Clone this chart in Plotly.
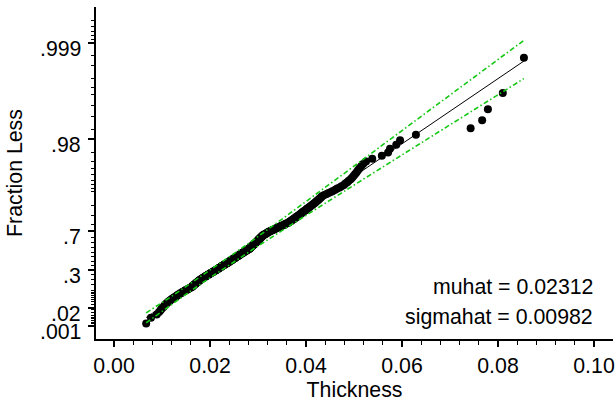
import numpy as np
import plotly.graph_objects as go

# Sorted thickness sample
thickness = [
    .0067, .0077, .0089, .0094, .0097, .0099, .0102, .0104, .0106, .0108,
    .0110, .0112, .0114, .0116, .0118, .0120, .0122, .0124, .0126, .0128,
    .0130, .0131, .0133, .0135, .0136, .0138, .0140, .0141, .0143, .0145,
    .0146, .0148, .0149, .0151, .0153, .0154, .0156, .0157, .0159, .0161,
    .0162, .0163, .0164, .0164, .0165, .0166, .0167, .0168, .0169, .0170,
    .0171, .0171, .0172, .0173, .0174, .0175, .0176, .0176, .0177, .0178,
    .0179, .0180, .0181, .0182, .0183, .0184, .0185, .0186, .0187, .0188,
    .0189, .0190, .0191, .0192, .0193, .0194, .0195, .0196, .0197, .0198,
    .0199, .0200, .0201, .0202, .0203, .0204, .0205, .0206, .0207, .0208,
    .0209, .0210, .0211, .0212, .0213, .0214, .0215, .0216, .0217, .0217,
    .0218, .0219, .0220, .0221, .0222, .0223, .0224, .0224, .0225, .0226,
    .0227, .0228, .0229, .0230, .0231, .0232, .0233, .0234, .0235, .0236,
    .0237, .0238, .0238, .0239, .0240, .0241, .0242, .0243, .0244, .0245,
    .0245, .0246, .0247, .0248, .0249, .0250, .0251, .0252, .0252, .0253,
    .0254, .0255, .0256, .0257, .0258, .0259, .0260, .0261, .0262, .0262,
    .0263, .0264, .0265, .0266, .0267, .0268, .0269, .0270, .0271, .0272,
    .0273, .0274, .0275, .0276, .0277, .0278, .0279, .0280, .0281, .0282,
    .0283, .0283, .0284, .0285, .0285, .0286, .0287, .0287, .0288, .0289,
    .0290, .0290, .0291, .0292, .0292, .0293, .0294, .0294, .0295, .0296,
    .0297, .0297, .0298, .0299, .0299, .0300, .0301, .0301, .0302, .0303,
    .0304, .0304, .0305, .0306, .0307, .0307, .0308, .0309, .0310, .0310,
    .0312, .0313, .0315, .0316, .0317, .0319, .0320, .0321, .0323, .0324,
    .0326, .0328, .0330, .0332, .0334, .0335, .0337, .0339, .0341, .0343,
    .0345, .0347, .0349, .0351, .0353, .0355, .0357, .0359, .0362, .0364,
    .0365, .0367, .0368, .0370, .0371, .0373, .0374, .0376, .0377, .0379,
    .0380, .0382, .0384, .0385, .0387, .0389, .0390, .0392, .0393, .0395,
    .0397, .0399, .0401, .0402, .0404, .0406, .0408, .0410, .0412, .0414,
    .0416, .0418, .0420, .0422, .0424, .0426, .0428, .0430, .0432, .0434,
    .0438, .0443, .0447, .0452, .0456, .0461, .0465, .0470, .0474, .0479,
    .0482, .0486, .0489, .0493, .0496,
    .0499, .0502, .0505, .0508, .0511,
    .0515, .0519, .0525, .0538, .0558, .0571, .0575, .0588, .0596, .0629,
    .0743, .0767, .0779, .0810, .0854,
]

muhat = 0.02312
sigmahat = 0.00982

prob_ticks = [0.001, 0.02, 0.3, 0.7, 0.98, 0.999]
prob_tick_text = [".001", ".02", ".3", ".7", ".98", ".999"]
minor_probs = [0.0015, 0.002, 0.003, 0.004, 0.005, 0.007, 0.01, 0.015, 0.03,
               0.04, 0.05, 0.06, 0.07, 0.08, 0.09, 0.1, 0.15, 0.2, 0.25, 0.35,
               0.4, 0.45, 0.5, 0.55, 0.6, 0.65, 0.75, 0.8, 0.85, 0.9, 0.91,
               0.92, 0.93, 0.94, 0.95, 0.96, 0.97, 0.985, 0.99, 0.993, 0.995,
               0.996, 0.997, 0.998, 0.9985, 0.9991, 0.9992, 0.9993, 0.9994,
               0.9995]

x_ticks = [0.00, 0.02, 0.04, 0.06, 0.08, 0.10]

FONT = "Liberation Sans, Arial, Helvetica, sans-serif"
FS = 21.3


def ev_scale(p):
    p = np.asarray(p, dtype=float)
    return -np.log(-np.log(p))


x = np.sort(np.array(thickness))
n = len(x)
pp = (np.arange(1, n + 1) - 0.5) / n
yq = ev_scale(pp)

# reference line over data range
xl = np.array([x.min(), x.max()])
yl = (xl - muhat) / sigmahat

# confidence bounds (largest extreme value, asymptotic MLE covariance)
s2n = sigmahat ** 2 / n
yg = np.linspace(-2.4, 8.2, 4000)
se = np.sqrt(s2n * (1.1087 + 2 * 0.2570 * yg + 0.6079 * yg ** 2))
xhat = muhat + sigmahat * yg
xb_lo = xhat - 1.96 * se
xb_hi = xhat + 1.96 * se
m1 = (xb_lo >= x.min()) & (xb_lo <= x.max())
m2 = (xb_hi >= x.min()) & (xb_hi <= x.max())

fig = go.Figure()
fig.add_trace(go.Scatter(x=x, y=yq, mode="markers",
                         marker=dict(color="black", size=8), showlegend=False,
                         hoverinfo="skip"))
fig.add_trace(go.Scatter(x=xl, y=yl, mode="lines",
                         line=dict(color="black", width=1), showlegend=False))
for xm, ym in [(xb_lo[m1], yg[m1]), (xb_hi[m2], yg[m2])]:
    fig.add_trace(go.Scatter(x=xm, y=ym, mode="lines",
                             line=dict(color="rgb(20,200,20)", width=1.6,
                                       dash="5px,2.5px,1.5px,2.5px"),
                             showlegend=False))

annotations = []
for p, t in zip(prob_ticks, prob_tick_text):
    annotations.append(dict(xref="paper", x=0, yref="y", y=float(ev_scale(p)),
                            text=t, showarrow=False, xanchor="right",
                            yanchor="middle", xshift=-13, yshift=-6,
                            font=dict(size=FS, color="black", family=FONT)))
annotations.append(dict(xref="paper", x=0.965, yref="paper", y=0.1575,
                        text="muhat = 0.02312", showarrow=False,
                        xanchor="right", yanchor="middle",
                        font=dict(size=FS, color="black", family=FONT)))
annotations.append(dict(xref="paper", x=0.965, yref="paper", y=0.0672,
                        text="sigmahat = 0.00982", showarrow=False,
                        xanchor="right", yanchor="middle",
                        font=dict(size=FS, color="black", family=FONT)))

fig.update_layout(
    width=616, height=404,
    margin=dict(l=96, r=3, t=7, b=65, autoexpand=False),
    paper_bgcolor="white", plot_bgcolor="white",
    font=dict(family=FONT, size=FS, color="black"),
    annotations=annotations,
    xaxis=dict(
        range=[-0.00375, 0.10396], automargin=False,
        tickmode="array", tickvals=x_ticks,
        ticktext=[f"{v:.2f}" for v in x_ticks],
        ticks="outside", ticklen=6, tickwidth=1.5, tickcolor="black",
        minor=dict(dtick=0.004, tick0=0, ticks="outside", ticklen=4,
                   tickcolor="black", tickwidth=1),
        showline=True, linecolor="black", linewidth=2, mirror=False,
        showgrid=False, zeroline=False,
        title=dict(text="Thickness", standoff=0,
                   font=dict(size=FS, family=FONT)),
        tickfont=dict(size=FS, family=FONT),
    ),
    yaxis=dict(
        range=[-2.344, 8.031], automargin=False,
        tickmode="array", tickvals=list(ev_scale(prob_ticks)),
        showticklabels=False,
        ticks="outside", ticklen=6, tickwidth=1.5, tickcolor="black",
        minor=dict(tickmode="array", tickvals=list(ev_scale(minor_probs)),
                   ticks="outside", ticklen=3.5, tickcolor="black",
                   tickwidth=1),
        showline=True, linecolor="black", linewidth=2, mirror=False,
        showgrid=False, zeroline=False,
        title=dict(text="Fraction Less", standoff=60,
                   font=dict(size=FS, family=FONT)),
    ),
)

fig.write_html("out.html",
               config={"displayModeBar": False},
               post_script="document.body.style.margin='0px';"
                           "document.body.style.overflow='hidden';")
